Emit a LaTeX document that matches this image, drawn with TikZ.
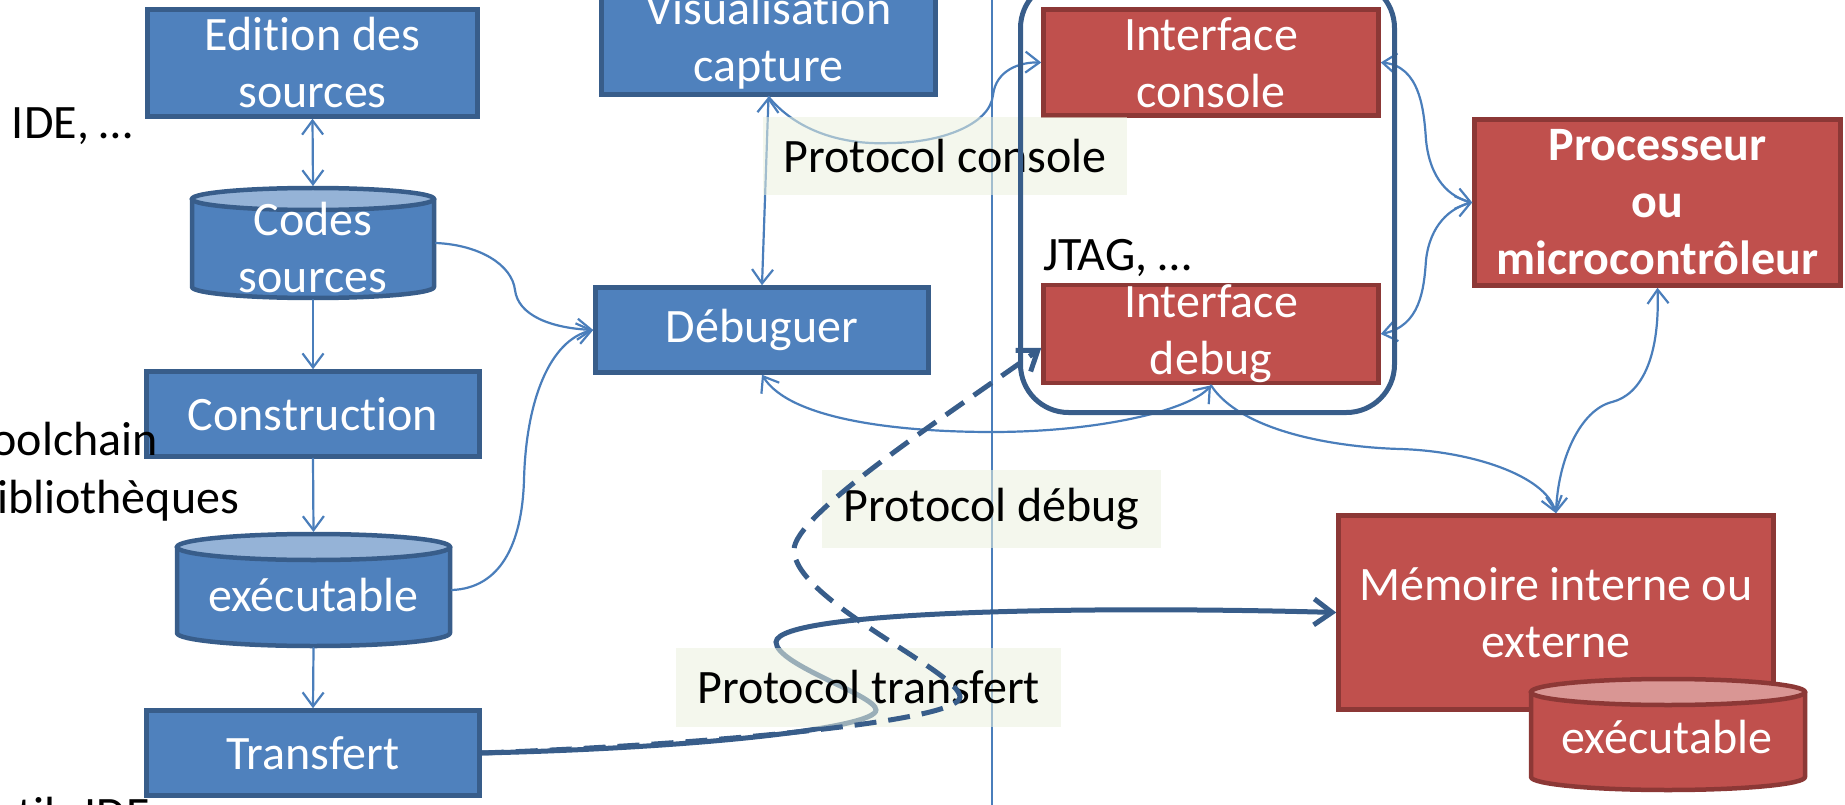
\documentclass[tikz,border=0pt]{standalone}
\usepackage{fontspec}
\setmainfont{Carlito}[Ligatures={NoCommon}]
\usetikzlibrary{arrows.meta,calc}
\definecolor{boxblue}{HTML}{4F81BD}
\definecolor{edgeblue}{HTML}{385D8A}
\definecolor{capblue}{HTML}{95B3D7}
\definecolor{boxred}{HTML}{C0504D}
\definecolor{edgered}{HTML}{8C3836}
\definecolor{capred}{HTML}{D99694}
\definecolor{wire}{HTML}{4A7EBB}
\definecolor{tagfill}{HTML}{EBF1DE}
\newcommand\txtsize{\fontsize{48}{57}\selectfont}
% storage drum: #1 left x, #2 right x, #3 y of top ellipse centre, #4 y of bottom ellipse centre,
% #5 ellipse half height, #6 body fill, #7 lid fill, #8 edge colour
\newcommand\drum[8]{%
  \filldraw[fill=#6, draw=#8, line width=4.5pt, line join=round]
    (#1,#3) -- (#1,#4) arc[start angle=180, end angle=0, x radius={(#2-#1)/2}, y radius=#5] -- (#2,#3) -- cycle;
  \filldraw[fill=#7, draw=#8, line width=4.5pt] ({(#1+#2)/2},#3) ellipse[x radius={(#2-#1)/2}, y radius=#5];
}
\begin{document}
\begin{tikzpicture}[x=1pt,y=-1pt,
  every node/.style={font=\txtsize, inner sep=0pt, outer sep=0pt},
  bluebox/.style={draw=edgeblue, fill=boxblue, line width=4.5pt, text=white, align=center, outer sep=2.25pt},
  redbox/.style={draw=edgered, fill=boxred, line width=4.5pt, text=white, align=center, outer sep=2.25pt},
  drumspot/.style={draw=none, fill=none},
  drumtext/.style={text=white, align=center},
  tag/.style={fill=tagfill, fill opacity=0.55, text opacity=1, text=black},
  wirec/.style={draw=wire, line width=2.2pt, line cap=round,
    >={Straight Barb[length=14pt,width=21pt]}},
  heavy/.style={draw=edgeblue, line width=5pt,
    >={Straight Barb[length=18pt,width=26pt]}},
  dashedheavy/.style={heavy, dash pattern=on 22pt off 12pt},
]
\useasboundingbox (0,0) rectangle (1845,805);

% separator between host side and target side
\coordinate (sepTop) at (992,-5);
\coordinate (sepBot) at (992,810);
\draw[draw=wire, line width=1.5pt] (sepTop) -- (sepBot);

% host tools
\node[bluebox, minimum width=330, minimum height=107] (ed) at (312.5,63) {Edition des\\sources};
\drum{192}{434}{199}{287}{11}{boxblue}{capblue}{edgeblue}
\node[drumspot, minimum width=246, minimum height=114] (codes) at (313,243) {};
\node[drumtext] (codestxt) at (313,248) {Codes\\sources};
\node[bluebox, minimum width=333, minimum height=85] (con) at (313,414) {Construction};
\drum{177}{450}{547}{633}{13}{boxblue}{capblue}{edgeblue}
\node[drumspot, minimum width=277, minimum height=116] (exec) at (313.5,590) {};
\node[drumtext] (exectxt) at (313.5,595.5) {exécutable};
\node[bluebox, minimum width=333, minimum height=85] (tra) at (313,753) {Transfert};
\node[bluebox, minimum width=334, minimum height=108] (vis) at (768.5,40.5) {Visualisation\\capture};
\node[bluebox, minimum width=333, minimum height=85] (deb) at (762,330) {Débuguer};

% target side
\node[redbox, minimum width=335, minimum height=106] (ic) at (1211,62.5) {Interface\\console};
\node[redbox, minimum width=335, minimum height=97] (idb) at (1211,334) {Interface\\debug};
\node[redbox, minimum width=366, minimum height=166, font=\txtsize\bfseries] (proc) at (1657.5,202.5) {Processeur\\ou\\microcontrôleur};
\node[redbox, minimum width=435, minimum height=194] (mem) at (1556,612.5) {Mémoire interne ou\\externe};
\drum{1531}{1805}{692}{777}{13}{boxred}{capred}{edgered}
\node[drumspot, minimum width=278, minimum height=115] (mexe) at (1668,734.5) {};
\node[drumtext] (mexetxt) at (1667,737.5) {exécutable};

% thin links
\draw[wirec, <->] (ed.south) -- (codes.north);
\draw[wirec, ->] (codes.south) -- (con.north);
\draw[wirec, ->] (con.south) -- (exec.north);
\draw[wirec, ->] (exec.south) -- (tra.north);
\draw[wirec, ->] (codes.east) .. controls (480,245) and (512,265) .. (515,290)
  .. controls (518,315) and (550,328) .. (deb.west);
\draw[wirec, ->] (exec.east) .. controls (500,588) and (522,545) .. (524,480)
  .. controls (526,400) and (550,340) .. (deb.west);
\draw[wirec, <->] (vis.south) -- (deb.north);
\draw[wirec, ->] (vis.south) .. controls (800,135) and (850,145) .. (890,143)
  .. controls (940,143) and (990,125) .. (993,95)
  .. controls (996,70) and (1020,62) .. (ic.west);
\draw[wirec, <->] (deb.south) .. controls (790,420) and (900,432) .. (992,432)
  .. controls (1100,432) and (1190,410) .. (idb.south);
\draw[wirec, ->] (idb.south) .. controls (1240,430) and (1330,447) .. (1400,449)
  .. controls (1470,451) and (1545,475) .. (mem.north);
\draw[wirec, <->] (proc.south) .. controls (1660,360) and (1640,395) .. (1612,402)
  .. controls (1580,410) and (1558,460) .. (mem.north);
\draw[wirec, <->] (ic.east) .. controls (1420,66) and (1424,110) .. (1426,140)
  .. controls (1430,180) and (1450,197) .. (proc.west);
\draw[wirec, <->] (idb.east) .. controls (1420,326) and (1424,290) .. (1426,260)
  .. controls (1430,225) and (1450,208) .. (proc.west);

% transfer link
\draw[heavy, ->] (tra.east) .. controls (700,748) and (876,728) .. (876,710)
  .. controls (876,695) and (776,665) .. (776,642)
  .. controls (778,610) and (1100,606) .. (mem.west);

% protocol tags
\node[tag, minimum width=364, minimum height=78] (pcon) at (945,156) {Protocol console};
\node[tag, minimum width=339, minimum height=78] (pdeb) at (991.5,509) {Protocol débug};
\node[tag, minimum width=385, minimum height=79] (ptra) at (868.5,687.5) {Protocol transfert};

% debug link
\draw[dashedheavy, ->] (tra.east) .. controls (700,745) and (960,722) .. (960,697)
  .. controls (960,672) and (794,600) .. (794,550)
  .. controls (794,515) and (940,420) .. ($(idb.west)+(0,14)$);

% probe enclosure
\node[draw=edgeblue, line width=5pt, rounded corners=48pt, minimum width=374, minimum height=432.5] (grp) at (1207.5,196.25) {};

% side notes
\node[anchor=base west] (ide) at (12,139) {IDE, …};
\node[anchor=base west] (jtag) at (1043,270) {JTAG, …};
\node[anchor=base east] (tool) at (158,455) {Toolchain};
\node[anchor=base east] (bib) at (239,513) {Bibliothèques};
\node[anchor=base east] (outils) at (150,830) {Outils IDE};
\end{tikzpicture}
\end{document}
